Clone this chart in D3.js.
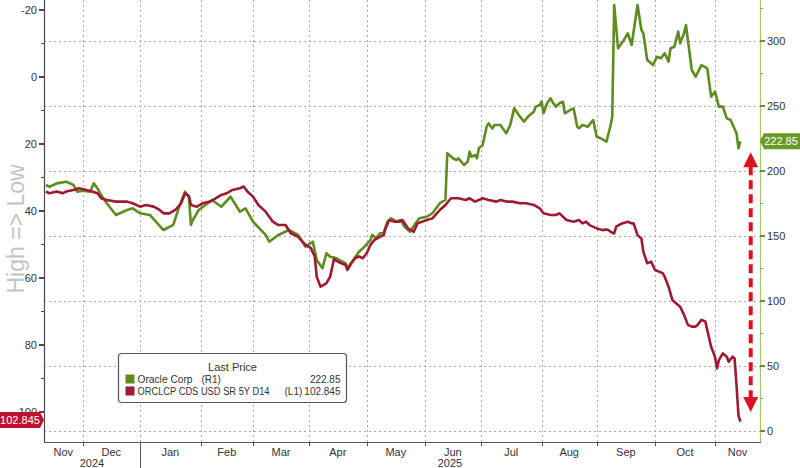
<!DOCTYPE html>
<html>
<head>
<meta charset="utf-8">
<script src="https://cdn.jsdelivr.net/npm/d3@7/dist/d3.min.js"></script>
<style>
  body { margin: 0; background: #fff; }
  svg { display: block; font-family: "Liberation Sans", Arial, sans-serif; }
</style>
</head>
<body>
<svg id="chart" width="800" height="468"></svg>
<script>
// Oracle share price (right axis)
const oracleSeries = [
  ["2024-11-11",189.2],["2024-11-13",187.9],["2024-11-17",190.5],["2024-11-22",191.8],["2024-11-26",189.2],
  ["2024-11-28",184.1],["2024-12-01",184.8],["2024-12-05",184.1],["2024-12-07",190.5],["2024-12-09",186.7],
  ["2024-12-11",181.5],["2024-12-14",175.2],["2024-12-19",166.2],["2024-12-25",170.0],["2024-12-28",171.3],
  ["2025-01-01",167.5],["2025-01-06",166.2],["2025-01-13",154.6],["2025-01-18",158.5],["2025-01-21",172.5],
  ["2025-01-24",184.1],["2025-01-26",180.2],["2025-01-27",158.5],["2025-01-28",162.3],["2025-01-31",170.0],
  ["2025-02-07",177.7],["2025-02-12",172.5],["2025-02-17",180.2],["2025-02-22",168.7],["2025-02-25",171.3],
  ["2025-03-01",161.0],["2025-03-08",150.8],["2025-03-10",145.6],["2025-03-15",150.8],["2025-03-21",154.6],
  ["2025-03-26",150.8],["2025-03-30",141.8],["2025-04-03",145.6],["2025-04-05",131.5],["2025-04-08",125.2],
  ["2025-04-10",136.7],["2025-04-12",134.1],["2025-04-15",133.0],["2025-04-17",131.5],["2025-04-20",129.0],
  ["2025-04-21",125.2],["2025-04-24",131.5],["2025-04-27",137.9],["2025-04-29",140.5],["2025-05-03",146.9],
  ["2025-05-04",150.8],["2025-05-06",148.2],["2025-05-08",152.1],["2025-05-10",152.1],["2025-05-12",161.0],
  ["2025-05-14",163.6],["2025-05-17",161.0],["2025-05-19",162.3],["2025-05-21",157.2],["2025-05-24",153.3],
  ["2025-05-27",159.8],["2025-05-29",163.6],["2025-06-02",164.8],["2025-06-05",167.5],["2025-06-09",175.2],
  ["2025-06-12",177.7],["2025-06-13",213.6],["2025-06-16",209.8],["2025-06-18",208.5],["2025-06-19",209.8],
  ["2025-06-22",204.6],["2025-06-24",207.2],["2025-06-25",214.8],["2025-06-26",211.0],["2025-06-28",212.3],
  ["2025-06-29",209.8],["2025-06-30",217.5],["2025-07-02",220.0],["2025-07-04",234.1],["2025-07-05",236.7],
  ["2025-07-07",232.8],["2025-07-08",235.4],["2025-07-11",235.4],["2025-07-14",229.0],["2025-07-16",235.4],
  ["2025-07-18",248.2],["2025-07-21",241.8],["2025-07-23",237.9],["2025-07-25",241.8],["2025-07-28",245.6],
  ["2025-07-29",249.5],["2025-07-31",250.8],["2025-08-01",253.3],["2025-08-02",244.4],["2025-08-04",252.1],
  ["2025-08-06",255.9],["2025-08-07",253.3],["2025-08-09",249.5],["2025-08-11",252.1],["2025-08-13",253.3],
  ["2025-08-14",244.4],["2025-08-17",246.9],["2025-08-19",248.2],["2025-08-21",234.1],["2025-08-22",232.8],
  ["2025-08-24",235.4],["2025-08-27",234.1],["2025-08-30",239.2],["2025-09-01",226.4],["2025-09-03",225.2],
  ["2025-09-06",222.5],["2025-09-08",234.1],["2025-09-09",241.8],["2025-09-10",327.7],["2025-09-12",294.4],
  ["2025-09-15",300.8],["2025-09-17",305.9],["2025-09-19",296.9],["2025-09-22",327.7],["2025-09-24",308.5],
  ["2025-09-25",305.9],["2025-09-27",285.4],["2025-09-30",281.5],["2025-10-02",287.9],["2025-10-04",286.7],
  ["2025-10-06",290.5],["2025-10-08",284.1],["2025-10-09",294.4],["2025-10-11",295.6],["2025-10-13",307.2],
  ["2025-10-14",298.2],["2025-10-16",305.9],["2025-10-17",312.3],["2025-10-20",277.7],["2025-10-22",272.5],
  ["2025-10-25",281.5],["2025-10-28",279.0],["2025-10-30",257.2],["2025-11-01",261.0],["2025-11-03",249.5],
  ["2025-11-05",249.5],["2025-11-07",240.5],["2025-11-09",239.2],["2025-11-12",229.0],["2025-11-13",217.5],
  ["2025-11-14",222.85]
];

// ORCLCP CDS USD SR 5Y D14 (left axis, inverted)
const cdsSeries = [
  ["2024-11-11",34.2],["2024-11-13",34.7],["2024-11-17",34.2],["2024-11-20",34.7],["2024-11-22",34.2],
  ["2024-11-26",33.7],["2024-11-29",33.2],["2024-12-03",33.7],["2024-12-06",34.2],["2024-12-09",34.7],
  ["2024-12-11",36.2],["2024-12-14",36.7],["2024-12-19",37.2],["2024-12-25",37.2],["2024-12-28",37.7],
  ["2025-01-01",38.7],["2025-01-04",38.2],["2025-01-08",38.7],["2025-01-11",39.7],["2025-01-13",40.7],
  ["2025-01-16",40.7],["2025-01-19",39.7],["2025-01-22",37.7],["2025-01-24",34.7],["2025-01-26",35.7],
  ["2025-01-27",38.2],["2025-01-30",38.7],["2025-02-02",37.7],["2025-02-06",37.2],["2025-02-09",36.2],
  ["2025-02-12",35.2],["2025-02-15",34.7],["2025-02-18",33.7],["2025-02-22",33.2],["2025-02-24",32.7],
  ["2025-02-26",34.2],["2025-03-01",35.7],["2025-03-04",38.2],["2025-03-08",40.2],["2025-03-12",43.2],
  ["2025-03-15",44.2],["2025-03-19",44.2],["2025-03-22",46.7],["2025-03-26",47.7],["2025-03-30",50.1],
  ["2025-04-02",51.1],["2025-04-04",53.6],["2025-04-05",59.6],["2025-04-07",62.6],["2025-04-10",61.6],
  ["2025-04-12",59.6],["2025-04-14",54.3],["2025-04-15",54.8],["2025-04-17",55.4],["2025-04-20",56.1],
  ["2025-04-21",57.6],["2025-04-23",55.6],["2025-04-25",54.1],["2025-04-27",53.6],["2025-04-29",54.1],
  ["2025-05-01",52.6],["2025-05-03",50.1],["2025-05-05",48.7],["2025-05-08",47.7],["2025-05-10",47.2],
  ["2025-05-11",45.2],["2025-05-13",42.7],["2025-05-16",43.2],["2025-05-18",43.2],["2025-05-20",42.7],
  ["2025-05-23",45.2],["2025-05-26",46.2],["2025-05-28",43.7],["2025-06-02",42.7],["2025-06-05",42.2],
  ["2025-06-09",39.7],["2025-06-12",38.2],["2025-06-15",36.2],["2025-06-19",36.2],["2025-06-23",36.7],
  ["2025-06-25",36.2],["2025-06-28",37.2],["2025-07-02",36.2],["2025-07-05",36.7],["2025-07-09",37.2],
  ["2025-07-11",36.7],["2025-07-14",37.2],["2025-07-17",37.2],["2025-07-21",37.7],["2025-07-24",37.7],
  ["2025-07-28",38.2],["2025-07-31",39.2],["2025-08-02",40.7],["2025-08-06",41.2],["2025-08-09",41.2],
  ["2025-08-11",40.7],["2025-08-13",41.7],["2025-08-15",42.7],["2025-08-19",43.2],["2025-08-22",42.7],
  ["2025-08-24",43.7],["2025-08-26",43.2],["2025-08-28",44.2],["2025-09-01",45.2],["2025-09-04",45.7],
  ["2025-09-06",45.5],["2025-09-07",45.7],["2025-09-09",46.5],["2025-09-10",46.7],["2025-09-11",44.7],
  ["2025-09-14",43.7],["2025-09-17",43.2],["2025-09-19",43.7],["2025-09-20",43.7],["2025-09-22",47.2],
  ["2025-09-24",48.2],["2025-09-25",52.1],["2025-09-27",55.6],["2025-09-29",55.1],["2025-10-01",57.6],
  ["2025-10-03",58.1],["2025-10-05",58.6],["2025-10-06",59.6],["2025-10-08",62.6],["2025-10-10",66.6],
  ["2025-10-12",67.6],["2025-10-14",68.6],["2025-10-16",71.0],["2025-10-18",74.0],["2025-10-20",74.5],
  ["2025-10-22",74.5],["2025-10-23",74.0],["2025-10-25",72.5],["2025-10-27",73.0],["2025-10-28",75.5],
  ["2025-10-30",80.5],["2025-11-01",83.5],["2025-11-02",87.0],["2025-11-03",84.5],["2025-11-05",82.5],
  ["2025-11-07",83.5],["2025-11-08",85.0],["2025-11-10",83.5],["2025-11-11",84.0],["2025-11-12",92.0],
  ["2025-11-13",101.0],["2025-11-14",102.845]
];

const leftTicks = [-20, 0, 20, 40, 60, 80, 100];
const rightTicks = [0, 50, 100, 150, 200, 250, 300];
const legendRows = [
  {name: "Oracle Corp", axis: "(R1)", last: "222.85"},
  {name: "ORCLCP CDS USD SR 5Y D14", axis: "(L1)", last: "102.845"}
];
const yearLabels = ["2024", "2025"];

const parse = d3.timeParse("%Y-%m-%d");
const oracle = oracleSeries.map(d => ({date: parse(d[0]), value: d[1]}));
const cds = cdsSeries.map(d => ({date: parse(d[0]), value: d[1]}));

const GREEN = "#5e8c1f", RED = "#9e1a33";
const left = 44, right = 760, bottom = 442;

// Bloomberg's axis is spaced by trading days, so months are not all the same width
const xBreaks = ["2024-11-10","2024-12-01","2025-01-01","2025-02-01","2025-03-01","2025-04-01","2025-05-01",
                 "2025-06-01","2025-07-01","2025-08-01","2025-09-01","2025-10-01","2025-11-01","2025-11-24"].map(parse);
const x = d3.scaleTime()
  .domain(xBreaks)
  .range([44, 82.7, 140, 200.7, 253, 309, 366.7, 425, 480.7, 541.7, 596.7, 655, 715, 760]);

const yL = d3.scaleLinear().domain([-20, 100]).range([10, 412]);   // inverted: high => low
const yR = d3.scaleLinear().domain([0, 300]).range([431, 41]);

const svg = d3.select("#chart");

// grid
const grid = svg.append("g").attr("stroke", "#a8a8a8").attr("stroke-dasharray", "2,3").attr("stroke-width", 1);
const monthStarts = d3.timeMonth.range(parse("2024-12-01"), parse("2025-11-02"));
grid.selectAll(".vg").data(monthStarts).join("line")
  .attr("x1", d => Math.round(x(d)) + 0.5).attr("x2", d => Math.round(x(d)) + 0.5)
  .attr("y1", 0).attr("y2", bottom);
grid.selectAll(".hg").data(rightTicks).join("line")
  .attr("x1", left).attr("x2", right)
  .attr("y1", d => Math.round(yR(d)) + 0.5).attr("y2", d => Math.round(yR(d)) + 0.5);

// y axis label
svg.append("text")
  .attr("transform", "translate(24,229) rotate(-90)")
  .attr("text-anchor", "middle")
  .attr("font-size", 23).attr("fill", "#c4c4c4")
  .text("High => Low");

// lines
const lineR = d3.line().x(d => x(d.date)).y(d => yR(d.value));
const lineL = d3.line().x(d => x(d.date)).y(d => yL(d.value));
svg.append("path").datum(oracle).attr("d", lineR)
  .attr("fill", "none").attr("stroke", GREEN).attr("stroke-width", 2.6).attr("stroke-linejoin", "round");
svg.append("path").datum(cds).attr("d", lineL)
  .attr("fill", "none").attr("stroke", RED).attr("stroke-width", 2.6).attr("stroke-linejoin", "round");

// left axis
svg.append("line").attr("x1", left + 0.5).attr("x2", left + 0.5).attr("y1", 0).attr("y2", bottom + 1)
  .attr("stroke", "#5a4448").attr("stroke-width", 1.2);
const la = svg.append("g");
la.selectAll("line.maj").data(leftTicks).join("line")
  .attr("x1", left - 5).attr("x2", left).attr("y1", d => yL(d)).attr("y2", d => yL(d))
  .attr("stroke", "#5a4448").attr("stroke-width", 2);
la.selectAll("line.min").data(d3.range(-10, 100, 20)).join("line")
  .attr("class", "min")
  .attr("x1", left - 3).attr("x2", left).attr("y1", d => yL(d)).attr("y2", d => yL(d))
  .attr("stroke", "#5a4448").attr("stroke-width", 1);
la.selectAll("text").data(leftTicks).join("text")
  .attr("x", left - 7).attr("y", d => yL(d) + 4)
  .attr("text-anchor", "end").attr("font-size", 11).attr("fill", "#333")
  .text(d => d);

// right axis
svg.append("line").attr("x1", right + 0.5).attr("x2", right + 0.5).attr("y1", 0).attr("y2", bottom + 1)
  .attr("stroke", "#a9c46c").attr("stroke-width", 1.2);
const ra = svg.append("g");
ra.selectAll("line.maj").data(rightTicks).join("line")
  .attr("x1", right).attr("x2", right + 5).attr("y1", d => yR(d)).attr("y2", d => yR(d))
  .attr("stroke", "#6d8f2a").attr("stroke-width", 2);
ra.selectAll("line.min").data(d3.range(25, 330, 50)).join("line")
  .attr("class", "min")
  .attr("x1", right).attr("x2", right + 3).attr("y1", d => yR(d)).attr("y2", d => yR(d))
  .attr("stroke", "#8aa84a").attr("stroke-width", 1);
ra.selectAll("text").data(rightTicks).join("text")
  .attr("x", right + 7).attr("y", d => yR(d) + 4)
  .attr("font-size", 11).attr("fill", "#333")
  .text(d => d);

// bottom axis
svg.append("line").attr("x1", left).attr("x2", right + 1).attr("y1", bottom + 0.5).attr("y2", bottom + 0.5)
  .attr("stroke", "#555").attr("stroke-width", 1.2);
svg.selectAll(".mt").data(monthStarts).join("line")
  .attr("x1", d => Math.round(x(d)) + 0.5).attr("x2", d => Math.round(x(d)) + 0.5)
  .attr("y1", bottom).attr("y2", bottom + 4)
  .attr("stroke", "#555");
// month labels, centred in each month (clipped to the plot)
const monthSpans = d3.pairs([xBreaks[0], ...monthStarts, xBreaks[xBreaks.length - 1]]);
svg.selectAll(".ml").data(monthSpans).join("text")
  .attr("x", d => (x(d[0]) + x(d[1])) / 2)
  .attr("y", 456)
  .attr("text-anchor", "middle").attr("font-size", 11).attr("fill", "#333")
  .text(d => d3.timeFormat("%b")(d[0]));
// year separator and labels
const yearBreak = parse("2025-01-01");
svg.append("line")
  .attr("x1", Math.round(x(yearBreak)) + 0.5).attr("x2", Math.round(x(yearBreak)) + 0.5)
  .attr("y1", bottom).attr("y2", 468).attr("stroke", "#555");
const yearSpans = [[xBreaks[0], yearBreak], [yearBreak, xBreaks[xBreaks.length - 1]]];
svg.selectAll(".yl").data(yearSpans).join("text")
  .attr("x", d => (x(d[0]) + x(d[1])) / 2)
  .attr("y", 467)
  .attr("text-anchor", "middle").attr("font-size", 11).attr("fill", "#333")
  .text((d, i) => yearLabels[i]);

// last-value tags
const lastO = oracle[oracle.length - 1], lastC = cds[cds.length - 1];
const yo = yR(lastO.value), yc = yL(lastC.value) - 1.5;
svg.append("path")
  .attr("d", `M${right},${yo} L${right + 4},${yo - 8} H800 V${yo + 8} H${right + 4} Z`)
  .attr("fill", "#6a9a26");
svg.append("text").attr("x", 781).attr("y", yo + 4).attr("text-anchor", "middle")
  .attr("font-size", 11).attr("fill", "#fff").text(legendRows[0].last);
svg.append("path")
  .attr("d", `M0,${yc - 8} H${left - 4} L${left},${yc} L${left - 4},${yc + 8} H0 Z`)
  .attr("fill", "#c0122e");
svg.append("text").attr("x", 20).attr("y", yc + 4).attr("text-anchor", "middle")
  .attr("font-size", 11).attr("fill", "#fff").text(legendRows[1].last);

// red dashed double arrow between the two last values
const ax = x(parse("2025-11-19")) + 0.5;
const aTop = yo + 11, aBot = yc - 8;
svg.append("line").attr("x1", ax).attr("x2", ax).attr("y1", aTop + 14).attr("y2", aBot - 14)
  .attr("stroke", "#d9141f").attr("stroke-width", 4).attr("stroke-dasharray", "9,5");
svg.append("path").attr("d", `M${ax},${aTop} L${ax + 7.5},${aTop + 15} L${ax - 7.5},${aTop + 15} Z`).attr("fill", "#d9141f");
svg.append("path").attr("d", `M${ax},${aBot} L${ax + 7.5},${aBot - 15} L${ax - 7.5},${aBot - 15} Z`).attr("fill", "#d9141f");

// legend
const lg = svg.append("g").attr("transform", "translate(118.5,353.5)");
lg.append("rect").attr("width", 228).attr("height", 49).attr("rx", 3)
  .attr("fill", "#fff").attr("stroke", "#555").attr("stroke-width", 1.2);
lg.append("text").attr("x", 114).attr("y", 17).attr("text-anchor", "middle")
  .attr("font-size", 11).attr("fill", "#333").text("Last Price");
const rows = lg.selectAll(".row").data(legendRows).join("g")
  .attr("transform", (d, i) => `translate(0,${29 + i * 12})`);
rows.append("rect").attr("x", 7).attr("y", -8).attr("width", 9).attr("height", 9)
  .attr("fill", (d, i) => i === 0 ? GREEN : RED);
rows.append("text").attr("x", 19).attr("font-size", 10).attr("fill", "#333")
  .attr("textLength", (d, i) => i === 0 ? 55 : 132).attr("lengthAdjust", "spacingAndGlyphs")
  .text(d => d.name);
rows.append("text").attr("x", (d, i) => i === 0 ? 83 : 166).attr("font-size", 10).attr("fill", "#333")
  .text(d => d.axis);
rows.append("text").attr("x", 222).attr("text-anchor", "end").attr("font-size", 10).attr("fill", "#333")
  .text(d => d.last);
</script>
</body>
</html>
